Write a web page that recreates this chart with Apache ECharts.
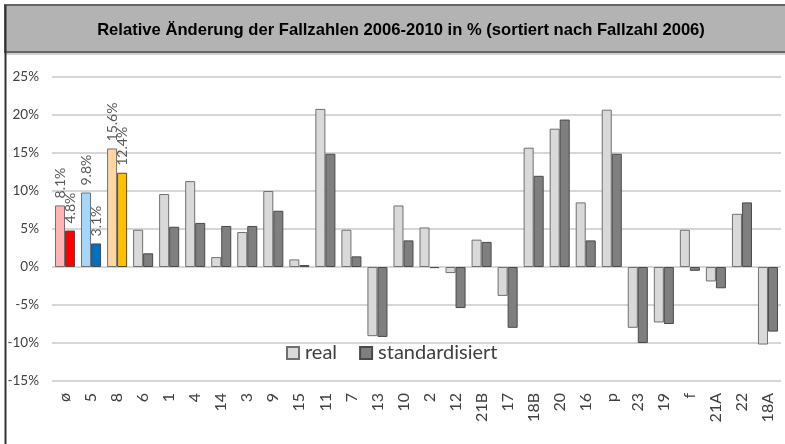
<!DOCTYPE html>
<html>
<head>
<meta charset="utf-8">
<script src="https://cdn.jsdelivr.net/npm/echarts@6/dist/echarts.min.js"></script>
<style>html,body{margin:0;padding:0;background:#fff}#c{width:785px;height:444px}</style>
</head>
<body>
<div id="c"></div>
<script>
const categories = ['ø','5','8','6','1','4','14','3','9','15','11','7','13','10','2','12','21B','17','18B','20','16','p','23','19','f','21A','22','18A'];
const realValues = [8.1,9.8,15.6,4.9,9.6,11.3,1.3,4.6,10.0,1.0,20.8,4.9,-9.1,8.1,5.2,-0.8,3.6,-3.8,15.7,18.2,8.5,20.7,-8.0,-7.3,4.9,-1.9,7.0,-10.2];
const stdValues = [4.8,3.1,12.4,1.8,5.3,5.8,5.4,5.4,7.4,0.25,14.9,1.4,-9.2,3.5,-0.15,-5.4,3.3,-8.0,12.0,19.4,3.5,14.9,-10.0,-7.5,-0.5,-2.8,8.5,-8.5];
const labelledCount = 3;
const titleText = 'Relative Änderung der Fallzahlen 2006-2010 in % (sortiert nach Fallzahl 2006)';
const seriesNames = ['real','standardisiert'];

const realHighlight = ['#ffb3b3','#a6d6fb','#fdd6a0'];
const stdHighlight = ['#ff0000','#0070c0','#ffc000'];

const lbl = {
  show: true, position: 'top', rotate: 90, align: 'left', verticalAlign: 'middle',
  distance: 7, fontSize: 14, color: '#595959', fontFamily: 'Lato',
  formatter: p => p.value.toFixed(1) + '%'
};

function build(vals, hi) {
  return vals.map((v, i) => i < labelledCount
    ? { value: v, itemStyle: { color: hi[i] }, label: lbl }
    : v);
}

const chart = echarts.init(document.getElementById('c'));
chart.setOption({
  animation: false,
  graphic: [
    { type: 'rect', shape: { x: 5, y: 5, width: 790, height: 47 },
      style: { fill: '#b3b3b3', stroke: '#666', lineWidth: 2 }, z: 0 },
    { type: 'line', shape: { x1: 5, y1: 54, x2: 785, y2: 54 }, style: { stroke: '#d0d0d0', lineWidth: 2 } },
    { type: 'line', shape: { x1: 5.5, y1: 5, x2: 5.5, y2: 444 }, style: { stroke: '#333', lineWidth: 2 } },
    { type: 'text', x: 401, y: 30, style: { text: titleText, fontSize: 16.6, fontWeight: 'bold',
      fontFamily: 'Liberation Sans', fill: '#000', textAlign: 'center', textVerticalAlign: 'middle' }, z: 10 }
  ],
  legend: {
    data: seriesNames, left: 281, top: 338, itemWidth: 12, itemHeight: 12, itemGap: 22,
    icon: 'rect',
    textStyle: { fontSize: 20, fontFamily: 'Lato', color: '#404040', padding: [0,0,0,1] }
  },
  grid: { left: 52, right: 4, top: 77, bottom: 63, containLabel: false },
  xAxis: {
    type: 'category', data: categories,
    axisLine: { show: false, onZero: false }, axisTick: { show: false },
    axisLabel: { rotate: 90, margin: 12, fontSize: 16, fontFamily: 'Lato', color: '#404040', interval: 0 }
  },
  yAxis: {
    type: 'value', min: -15, max: 25, interval: 5,
    axisLine: { show: false }, axisTick: { show: false },
    axisLabel: { formatter: '{value}%', margin: 13, fontSize: 13.5, fontFamily: 'Lato', color: '#404040' },
    splitLine: { lineStyle: { color: '#d6d6d6', width: 2 } }
  },
  series: [
    { name: seriesNames[0], type: 'bar', data: build(realValues, realHighlight),
      barGap: '0%', barCategoryGap: '23%',
      itemStyle: { color: '#d9d9d9', borderColor: '#707070', borderWidth: 1 } },
    { name: seriesNames[1], type: 'bar', data: build(stdValues, stdHighlight),
      itemStyle: { color: '#7f7f7f', borderColor: '#4a4a4a', borderWidth: 1 } }
  ]
});
</script>
</body>
</html>
